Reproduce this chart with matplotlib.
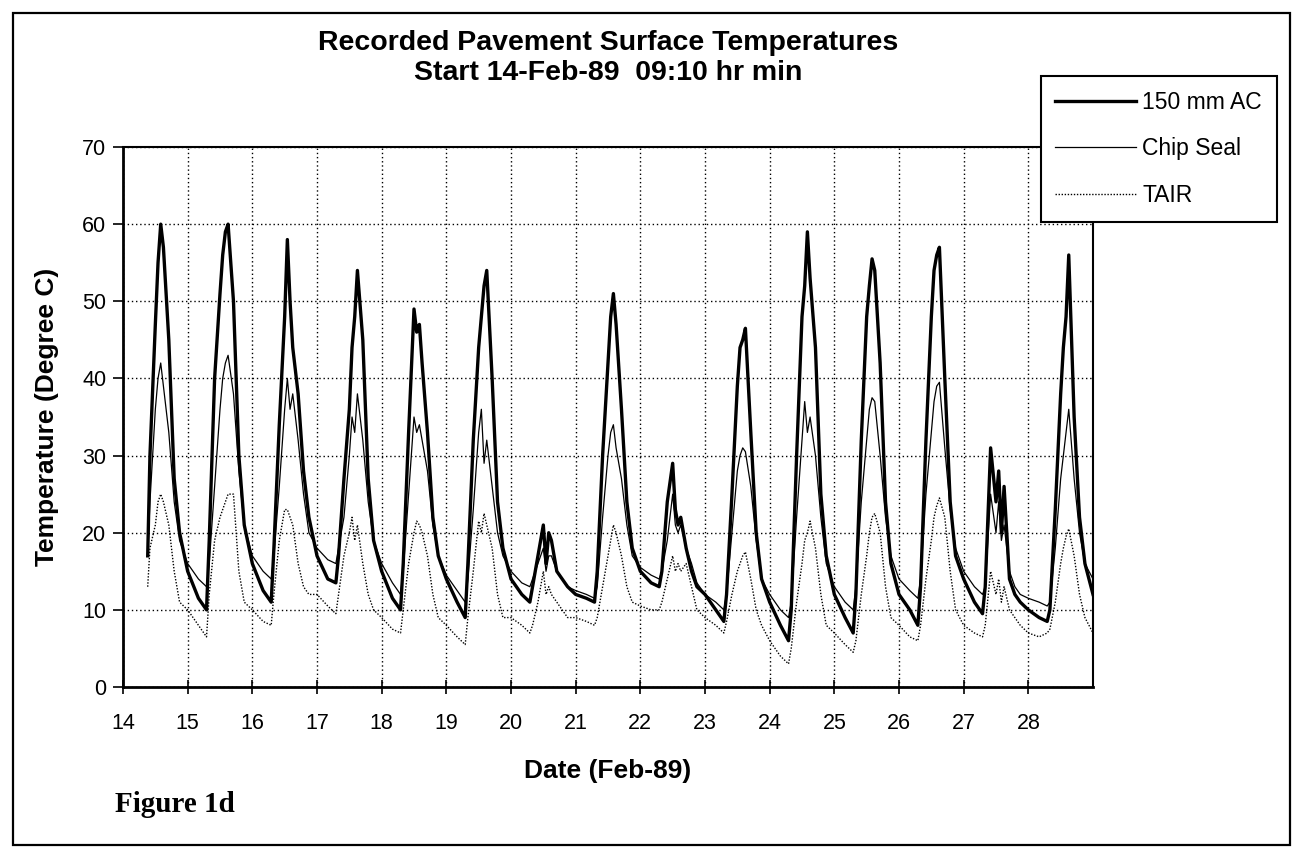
import matplotlib
matplotlib.use("Agg")
import matplotlib.pyplot as plt
from matplotlib.patches import Rectangle
import numpy as np

plt.rcParams['font.family'] = ['Liberation Sans', 'DejaVu Sans']

# ---------------------------------------------------------------
# readings (deg C), one row per day, at these hours of the day
# ---------------------------------------------------------------
days = list(range(14, 29))
hours = [0, 4, 7, 8, 10, 12, 13, 14, 15, 17, 19, 21]
start_day = 14 + (9 + 10 / 60) / 24      # 14-Feb-89 09:10
end_day = 29.0

ac_start, chip_start, tair_start = 17, 17, 13
ac_end, chip_end, tair_end = 12, 14, 7

ac_rows = [
    [None, None, None, None, 30, 47, 55, 60, 57, 45, 27, 20],
    [15, 11.5, 10, 19, 40, 51, 56, 59, 60, 50, 30, 21],
    [16, 12.5, 11, 18, 34, 48, 58, 50, 44, 38, 28, 22],
    [17, 14, 13.5, 17, 27, 36, 44, 48, 54, 45, 27, 19],
    [15, 11.5, 10, 16, 33, 49, 46, 47, 42, 33, 22, 17],
    [14, 11, 9, 16, 32, 44, 48, 52, 54, 40, 24, 18],
    [14, 12, 11, 13, 17, 21, 16, 20, 19, 15, 14, 13],
    [12, 11.5, 11, 15, 30, 42, 48, 51, 47, 36, 24, 18],
    [15, 13.5, 13, 15, 24, 29, 23, 21, 22, 18, 15, 13],
    [12, 10, 8.5, 12, 25, 39, 44, 45, 46.5, 33, 20, 14],
    [11, 8, 6, 10, 30, 48, 52, 59, 53, 44, 25, 17],
    [12, 9, 7, 12, 32, 48, 52, 55.5, 54, 42, 24, 16],
    [12, 10, 8, 13, 32, 48, 54, 56, 57, 40, 24, 17],
    [14, 11, 9.5, 13, 31, 24, 28, 20, 26, 14, 12, 11],
    [10, 9, 8.5, 10, 23, 38, 44, 48, 56, 35, 22, 16],
]

chip_rows = [
    [None, None, None, None, 24, 36, 40, 42, 39, 33, 24, 19],
    [16, 14, 13, 16, 26, 36, 40, 42, 43, 38, 28, 21],
    [17, 15, 14, 17, 26, 36, 40, 36, 38, 32, 25, 20],
    [18, 16.5, 16, 18, 22, 30, 35, 33, 38, 32, 24, 19],
    [16, 13.5, 12, 15, 25, 35, 33, 34, 32, 28, 21, 17],
    [14.5, 12.5, 11, 14, 23, 33, 36, 29, 32, 26, 20, 17],
    [15, 13.5, 13, 14, 16, 18, 15, 17, 17, 15, 14, 13],
    [12.5, 12, 11.5, 13, 22, 30, 33, 34, 31, 27, 21, 17],
    [15.5, 14.5, 14, 15, 19, 25, 21, 20, 21, 18, 16, 13.5],
    [12, 11, 10, 12, 20, 28, 30, 31, 30.5, 26, 19, 14],
    [12, 10, 9, 11, 22, 32, 37, 33, 35, 30, 22, 16],
    [13, 11, 10, 13, 24, 32, 36, 37.5, 37, 30, 22, 17],
    [14, 12.5, 11.5, 14, 25, 33, 37, 39, 39.5, 31, 23, 18],
    [15, 13, 12, 13, 25, 20, 24, 19, 21, 15, 13, 12],
    [11.5, 11, 10.5, 11, 18, 27, 30, 33, 36, 27, 20, 16],
]

tair_rows = [
    [None, None, None, None, 18, 21, 24, 25, 24, 21, 15, 11],
    [10, 8, 6.5, 12, 19, 22, 23, 24, 25, 25, 15, 11],
    [10, 8.5, 8, 12, 19, 23, 23, 22, 21, 16, 13, 12],
    [12, 10.5, 9.5, 12, 17, 20, 22, 19, 21, 16, 12, 10],
    [9, 7.5, 7, 10, 16, 20, 21.5, 21, 20, 17, 12, 9],
    [8, 6.5, 5.5, 9, 15, 21.5, 20, 22.5, 21, 18, 12, 9],
    [9, 8, 7, 8, 11, 15, 12, 13, 12, 11, 10, 9],
    [9, 8.5, 8, 9, 13, 17, 19, 21, 20, 17, 13, 11],
    [10.5, 10, 10, 11, 14, 17, 15, 16, 15, 16, 13, 10],
    [9, 8, 7, 8.5, 12, 15, 16, 17, 17.5, 14, 10, 8],
    [6, 4, 3, 5, 11, 16, 19, 20, 21.5, 18, 12, 8],
    [7, 5.5, 4.5, 6, 12, 17, 20, 22, 22.5, 20, 13, 9],
    [8, 6.5, 6, 8, 14, 19, 22, 23.5, 24.5, 22, 15, 10],
    [8, 7, 6.5, 8, 15, 12, 14, 11, 13, 10, 9, 8],
    [7, 6.5, 7, 7.5, 11, 16, 18, 19.5, 20.5, 17, 12, 9],
]


def series(rows, first, last):
    t = [start_day]
    v = [first]
    for d, row in zip(days, rows):
        for h, val in zip(hours, row):
            if val is None:
                continue
            t.append(d + h / 24)
            v.append(val)
    t.append(end_day)
    v.append(last)
    return np.array(t), np.array(v)


W, H = 1301, 855
fig = plt.figure(figsize=(W / 100, H / 100), dpi=100)

# outer frame of the pasted chart
fig.patches.append(Rectangle((13 / W, 1 - 845 / H), 1277 / W, 832 / H,
                             transform=fig.transFigure, fill=False,
                             edgecolor='black', linewidth=1.6))

ax = fig.add_axes([123 / W, 1 - 687 / H, 970 / W, 540 / H])

t, v = series(ac_rows, ac_start, ac_end)
ax.plot(t, v, color='black', lw=2.4, label='150 mm AC')
t, v = series(chip_rows, chip_start, chip_end)
ax.plot(t, v, color='black', lw=0.9, label='Chip Seal')
t, v = series(tair_rows, tair_start, tair_end)
ax.plot(t, v, color='black', lw=1.0, ls=(0, (1, 1.2)), label='TAIR')

ax.set_xlim(14, 29)
ax.set_ylim(0, 70)
ax.set_xticks(days)
ax.set_yticks(range(0, 71, 10))
ax.grid(True, color='black', ls=(0, (1, 2)), lw=1.0)
for s in ['left', 'bottom']:
    ax.spines[s].set_linewidth(2.0)
for s in ['top', 'right']:
    ax.spines[s].set_linewidth(1.5)
ax.tick_params(axis='y', direction='out', length=7, width=1.2, pad=5, labelsize=15.5)
ax.tick_params(axis='x', direction='inout', length=10, width=1.2, pad=14, labelsize=15.5)

ax.set_xlabel('Date (Feb-89)', fontsize=19, fontweight='bold')
ax.xaxis.set_label_coords(0.5, -0.133)
ax.set_ylabel('Temperature (Degree C)', fontsize=19, fontweight='bold')
ax.yaxis.set_label_coords(-0.066, 0.5)

fig.text(608 / W, 1 - 50 / H, 'Recorded Pavement Surface Temperatures',
         ha='center', va='baseline', fontsize=20.5, fontweight='bold')
fig.text(608 / W, 1 - 80 / H, 'Start 14-Feb-89  09:10 hr min',
         ha='center', va='baseline', fontsize=20.5, fontweight='bold')

leg = fig.legend(loc='upper right', bbox_to_anchor=(1277 / W, 1 - 76 / H),
                 fontsize=16.5, frameon=True, fancybox=False, shadow=False,
                 handlelength=3.5, handletextpad=0.3, labelspacing=1.03,
                 borderpad=0.65, borderaxespad=0)
leg.get_frame().set_edgecolor('black')
leg.get_frame().set_linewidth(1.5)
leg.get_frame().set_alpha(1)

fig.text(115 / W, 1 - 812 / H, 'Figure 1d', ha='left', va='baseline',
         fontsize=21, fontweight='bold', family=['Liberation Serif', 'DejaVu Serif'])

fig.savefig('out.png', dpi=100)
